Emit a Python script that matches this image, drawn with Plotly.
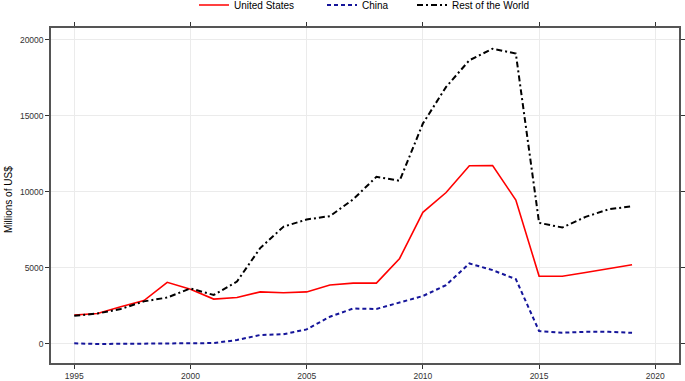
import plotly.graph_objects as go

years = list(range(1995, 2020))
us = [1900, 2000, 2450, 2850, 4050, 3600, 2950, 3050, 3420, 3370, 3420, 3870, 4000, 4000,
      5620, 8650, 9950, 11710, 11730, 9450, 4460, 4450, 4700, 4950, 5200]
china = [40, 0, 10, 30, 30, 30, 60, 260, 590, 640, 960, 1790, 2330, 2300,
         2720, 3150, 3870, 5290, 4850, 4260, 850, 740, 800, 800, 730]
row = [1850, 2000, 2300, 2800, 3050, 3650, 3220, 4100, 6300, 7700, 8180, 8400, 9500, 10980,
       10720, 14480, 16890, 18640, 19400, 19080, 7960, 7650, 8350, 8850, 9050]

x_ticks = [1995, 2000, 2005, 2010, 2015, 2020]
y_ticks = [0, 5000, 10000, 15000, 20000]

FONT = "Liberation Sans, Arial, sans-serif"
W, H = 685, 381

fig = go.Figure()
fig.add_trace(go.Scatter(x=years, y=us, mode="lines", name="United States",
                         line=dict(color="#ff0000", width=1.6), legend="legend"))
fig.add_trace(go.Scatter(x=years, y=china, mode="lines", name="China",
                         line=dict(color="#15159a", width=2, dash="4px,3px"), legend="legend2"))
fig.add_trace(go.Scatter(x=years, y=row, mode="lines", name="Rest of the World",
                         line=dict(color="#000000", width=2, dash="6px,3px,2px,3px"),
                         legend="legend3"))


def leg(px):
    return dict(orientation="h", xref="container", yref="container",
                x=px / W, y=1 - 5 / H, xanchor="left", yanchor="middle",
                font=dict(family=FONT, size=10, color="#000000"),
                bgcolor="rgba(0,0,0,0)", itemwidth=30, visible=True)


fig.update_layout(
    width=W, height=H,
    showlegend=True,
    margin=dict(l=51, r=6, t=28, b=18, autoexpand=False),
    paper_bgcolor="white", plot_bgcolor="white",
    font=dict(family=FONT, size=9, color="#333333"),
    legend=leg(194),
    legend2=leg(322),
    legend3=leg(412),
    xaxis=dict(range=[1994.0, 2021.02], tickvals=x_ticks, ticktext=[str(v) for v in x_ticks],
               showgrid=True, gridcolor="#ebebeb", gridwidth=1,
               showline=True, linecolor="#555555", linewidth=1.5, mirror="ticks",
               ticks="outside", ticklen=4, tickcolor="#333333", tickwidth=1,
               tickfont=dict(size=8.5, color="#333333"), zeroline=False, automargin=False),
    yaxis=dict(range=[-1250, 20760], tickvals=y_ticks, ticktext=[str(v) for v in y_ticks],
               showgrid=True, gridcolor="#ebebeb", gridwidth=1,
               showline=True, linecolor="#555555", linewidth=1.5, mirror="ticks",
               ticks="outside", ticklen=4, tickcolor="#333333", tickwidth=1,
               tickfont=dict(size=8.5, color="#333333"), zeroline=False, automargin=False),
    annotations=[dict(text="Millions of US$", xref="paper", yref="paper",
                      x=(8 - 51) / 628, y=(363 - 200) / 335, textangle=-90,
                      showarrow=False, xanchor="center", yanchor="middle",
                      font=dict(family=FONT, size=10, color="#000000"))],
)

fig.write_html("out.html", config={"displayModeBar": False},
               post_script="document.body.style.margin='0';document.body.style.padding='0';")
